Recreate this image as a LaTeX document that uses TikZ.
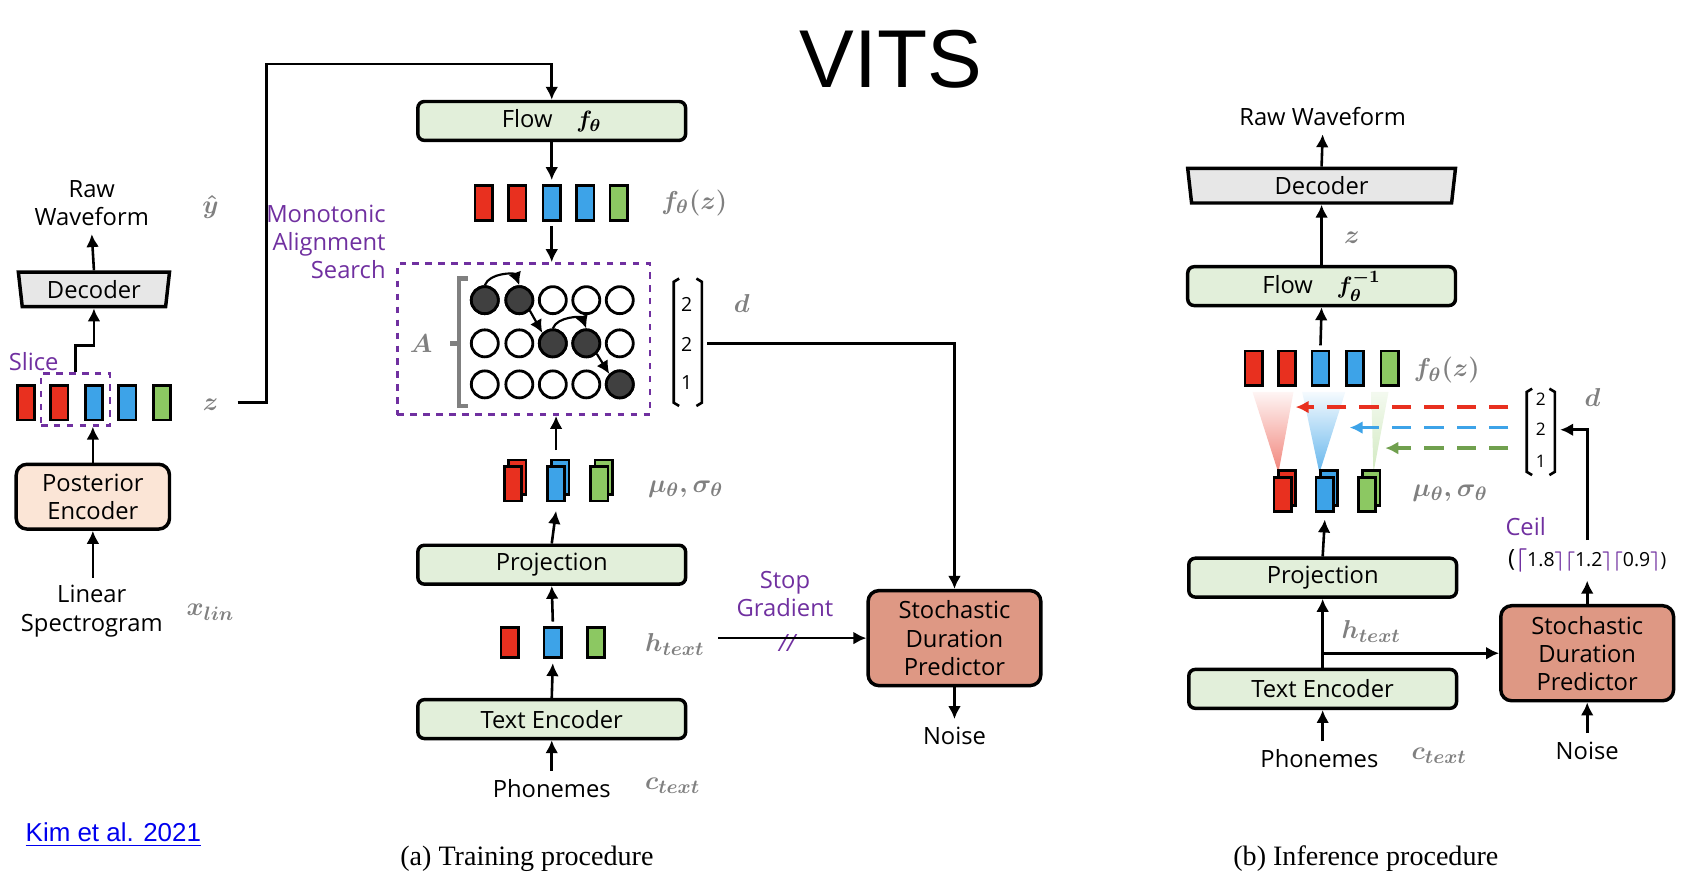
\documentclass[tikz,border=0pt]{standalone}
\usepackage{fontspec}
\setsansfont{Open Sans}
\setmainfont{Liberation Serif}
\newfontfamily\arialfont{Liberation Sans}
\usepackage{amsmath,amssymb}
\usetikzlibrary{positioning,arrows.meta,shapes.geometric,calc}
\definecolor{boxgreen}{RGB}{226,239,218}
\definecolor{boxbeige}{RGB}{251,229,214}
\definecolor{boxsalmon}{RGB}{222,152,132}
\definecolor{boxgray}{RGB}{231,231,231}
\definecolor{barred}{RGB}{232,48,31}
\definecolor{barblue}{RGB}{61,163,232}
\definecolor{bargreen}{RGB}{140,200,98}
\definecolor{mas}{RGB}{112,48,160}
\definecolor{symgray}{RGB}{128,128,128}
\definecolor{linkblue}{RGB}{0,0,238}

\begin{document}
\begin{tikzpicture}[x=0.5pt, y=-0.5pt, line width=1.2pt, >={Latex[length=6pt,width=6pt]},
  every node/.style={font=\sffamily\fontsize{11}{13}\selectfont},
  blk/.style={draw, rounded corners=3pt, line width=1.6pt, fill=boxgreen, minimum width=124pt, minimum height=18pt, inner sep=0pt},
  sdp/.style={draw, rounded corners=5pt, line width=1.6pt, fill=boxsalmon, minimum width=80pt, minimum height=44pt, align=center, inner sep=0pt},
  dec/.style={draw, trapezium, shape border rotate=180, trapezium stretches body, trapezium angle=78, line width=1.6pt, fill=boxgray, minimum width=70pt, minimum height=16pt, inner sep=0pt},
  bar/.style={draw, line width=1.2pt, minimum width=8pt, minimum height=16pt, inner sep=0pt},
  sym/.style={text=symgray, font=\fontsize{13}{15}\selectfont\boldmath},
  lbl/.style={align=center},
  pur/.style={text=mas, align=center},
  dot/.style={circle, draw, line width=1.3pt, minimum size=12.5pt, inner sep=0pt},
  full/.style={dot, fill=black!75}]
\useasboundingbox (0,0) rectangle (1568,818);

% Title
\node[font=\fontsize{38}{40}\selectfont\arialfont] (title) at (825,55) {VITS};

% ---------- posterior branch ----------
\node[lbl] (rawl) at (85,188) {Raw\\Waveform};
\node[sym] at (195,192) {$\hat{y}$};
\node[dec] (decl) at (87,268) {Decoder};
\node[draw, rounded corners=5pt, line width=1.6pt, fill=boxbeige, minimum width=71pt, minimum height=30pt, align=center, inner sep=0pt] (post) at (86,460) {Posterior\\Encoder};
\node[lbl] (spec) at (85,566) {Linear\\Spectrogram};
\node[sym] at (195,567) {$x_{lin}$};
\foreach \x/\c [count=\i] in {24/barred,55/barred,87/barblue,118/barblue,150/bargreen}
  \node[bar, fill=\c] (zl\i) at (\x,373) {};
\node[draw=mas, dashed, line width=1.2pt, minimum width=32pt, minimum height=24pt, inner sep=0pt] (slice) at (70,370) {};
\node[pur, anchor=east] at (62,335) {Slice};
\node[sym] (zlab) at (195,375) {$z$};
\coordinate (zout) at (220,373);

\draw[->] (spec.north) -- (post.north |- spec.north) -- (post.south);
\draw[->] (post.north) -- (post.north |- slice.south);
\draw[->] (slice.north) -- ++(0,-25) -| (decl.south);
\draw[->] (decl.north) -- (rawl.south);

% ---------- training ----------
\node[blk] (flowa) at (511,112) {Flow\quad $\boldsymbol{f_\theta}$};
\foreach \x/\c [count=\i] in {448/barred,479/barred,511/barblue,542/barblue,573/bargreen}
  \node[bar, fill=\c] (fa\i) at (\x,188) {};
\node[sym] at (643,188) {$f_\theta(z)$};
\node[draw=mas, dashed, line width=1.2pt, minimum width=117pt, minimum height=70pt, inner sep=0pt] (mas) at (485,314) {};
\node[pur, align=right, anchor=east] at (365,224) {Monotonic\\Alignment\\Search};

\foreach \y [count=\r] in {278,318,356}
  \foreach \x [count=\c] in {449,481,512,543,574}
    \node[dot] (c\r\c) at (\x,\y) {};
\foreach \r/\c in {1/1,1/2,2/3,2/4,3/5}
  \node[full] at (c\r\c) {};
\draw[->, line width=1pt] (c11.north) to[bend left=70] (c12.north);
\draw[->, line width=1pt] (c12.south east) -- (c23.north west);
\draw[->, line width=1pt] (c23.north) to[bend left=70] (c24.north);
\draw[->, line width=1pt] (c24.south east) -- (c35.north west);
\draw[symgray, line width=2pt] (433,258) -- (425,258) -- (425,376) -- (433,376);
\draw[symgray, line width=2pt] (425,318) -- (417,318);
\node[sym] at (390,318) {$A$};

\draw (629,258) -- (624,261) -- (624,373) -- (629,376);
\draw (645,258) -- (650,261) -- (650,373) -- (645,376);
\node[font=\sffamily\fontsize{9}{10}\selectfont] at (636,282) {2};
\node[font=\sffamily\fontsize{9}{10}\selectfont] at (636,319) {2};
\node[font=\sffamily\fontsize{9}{10}\selectfont] at (636,354) {1};
\coordinate (dout) at (655,318);
\node[sym] at (687,281) {$d$};

\foreach \x/\c [count=\i] in {475/barred,515/barblue,555/bargreen}{
  \node[bar, fill=\c] at (\x+4,442) {};
  \node[bar, fill=\c] (ma\i) at (\x,448) {};
}
\node[sym] at (635,453) {$\mu_\theta,\sigma_\theta$};

\node[blk] (proja) at (511,523) {Projection};
\foreach \x/\c [count=\i] in {472/barred,512/barblue,552/bargreen}
  \node[bar, fill=\c, minimum height=14pt] (ha\i) at (\x,595) {};
\node[sym] at (625,597) {$h_{text}$};
\coordinate (hout) at (665,591);
\node[blk] (texta) at (511,666) {Text Encoder};
\node (phona) at (511,730) {Phonemes};
\node[sym] at (623,728) {$c_{text}$};

\node[sdp] (sdpa) at (884,591) {Stochastic\\Duration\\Predictor};
\node (noisea) at (884,682) {Noise};
\node[pur] at (727,550) {Stop\\Gradient};
\node[pur] at (730,596) {\textit{//}};

\draw[->] (zout) -- ++(27,0) |- ($(flowa.north)+(0,-33)$) -- (flowa.north);
\draw[->] (flowa.south) -- ($(fa3.north)+(0,-4)$);
\draw[->] ($(fa3.south)+(0,4)$) -- (mas.north -| fa3);
\draw[->] ($(ma2.north)+(0,-14)$) -- (mas.south -| ma2);
\draw[->] (proja.north) -- ($(ma2.south)+(0,8)$);
\draw[->] ($(ha2.north)+(0,-4)$) -- (proja.south);
\draw[->] (texta.north) -- ($(ha2.south)+(0,4)$);
\draw[->] (phona.north) -- (texta.south);
\draw[->] (dout) -| (sdpa.north);
\draw[->] (hout) -- (sdpa.west);
\draw[->] (sdpa.south) -- (noisea.north);

% ---------- inference ----------
\node (rawr) at (1225,108) {Raw Waveform};
\node[dec, minimum width=124pt] (decr) at (1224,172) {Decoder};
\node[sym] at (1252,220) {$z$};
\node[blk] (flowb) at (1224,265) {Flow\quad $\boldsymbol{f_\theta^{-1}}$};
\foreach \x/\c [count=\i] in {1161/barred,1192/barred,1223/barblue,1255/barblue,1287/bargreen}
  \node[bar, fill=\c] (fb\i) at (\x,341) {};
\node[sym] at (1340,343) {$f_\theta(z)$};
\shade[top color=barred!5, bottom color=barred!60] (1160,363) -- (1198,363) -- (1184,438) -- cycle;
\shade[top color=barblue!5, bottom color=barblue!80] (1206,363) -- (1246,363) -- (1222,438) -- cycle;
\shade[top color=bargreen!10, bottom color=bargreen!40] (1270,363) -- (1286,363) -- (1272,438) -- cycle;

\draw (1419,360) -- (1414,363) -- (1414,437) -- (1419,440);
\draw (1435,360) -- (1440,363) -- (1440,437) -- (1435,440);
\node[font=\sffamily\fontsize{8}{9}\selectfont] (d1) at (1427,370) {2};
\node[font=\sffamily\fontsize{8}{9}\selectfont] (d2) at (1427,398) {2};
\node[font=\sffamily\fontsize{8}{9}\selectfont] (d3) at (1427,427) {1};
\node[sym] at (1475,368) {$d$};
\coordinate (dr) at (1397,377);
\coordinate (db) at (1397,396);
\coordinate (dg) at (1397,415);
\coordinate (din) at (1445,398);
\draw[->, dash pattern=on 9pt off 6pt, barred, line width=1.5pt] (dr) -- (1200,377);
\draw[->, dash pattern=on 9pt off 6pt, barblue, line width=1.5pt] (db) -- (1250,396);
\draw[->, dash pattern=on 9pt off 6pt, bargreen!80!black, line width=1.5pt] (dg) -- (1283,415);

\foreach \x/\c [count=\i] in {1188/barred,1227/barblue,1266/bargreen}{
  \node[bar, fill=\c] at (\x+4,452) {};
  \node[bar, fill=\c] (mb\i) at (\x,458) {};
}
\node[sym] at (1343,457) {$\mu_\theta,\sigma_\theta$};
\node[blk] (projb) at (1225,535) {Projection};
\node[sym] at (1270,585) {$h_{text}$};
\node[blk] (textb) at (1225,638) {Text Encoder};
\coordinate (hsplit) at (1225,605);
\node (phonb) at (1222,703) {Phonemes};
\node[sym] at (1333,700) {$c_{text}$};
\node[sdp] (sdpb) at (1470,605) {Stochastic\\Duration\\Predictor};
\node (noiseb) at (1470,695) {Noise};
\node[pur] at (1413,488) {Ceil};
\node (ceil) at (1470,519) {(${\color{mas}\boldsymbol{\lceil}}$\fontsize{9}{10}\selectfont 1.8${\color{mas}\boldsymbol{\rceil\lceil}}$1.2${\color{mas}\boldsymbol{\rceil\lceil}}$0.9${\color{mas}\boldsymbol{\rceil}}$)};

\draw[->] (decr.north) -- (rawr.south);
\draw[->] (flowb.north) -- (decr.south);
\draw[->] ($(fb3.north)+(0,-4)$) -- (flowb.south);
\draw[->] (projb.north) -- ($(mb2.south)+(0,6)$);
\draw[->] (textb.north) -- (projb.south);
\draw[->] (hsplit) -- (sdpb.west);
\draw[->] (phonb.north -| textb) -- (textb.south);
\draw[->] (noiseb.north) -- (sdpb.south);
\draw[->] (sdpb.north) -- (ceil.south);
\draw[->] (ceil.north) |- (din);

% captions
\node[font=\fontsize{13}{15}\selectfont\rmfamily] at (488,795) {(a) Training procedure};
\node[font=\fontsize{13}{15}\selectfont\rmfamily] at (1265,795) {(b) Inference procedure};
\node[text=linkblue, font=\fontsize{12}{14}\selectfont\arialfont] (cite) at (105,773) {\underline{Kim et al. 2021}};
\end{tikzpicture}
\end{document}
